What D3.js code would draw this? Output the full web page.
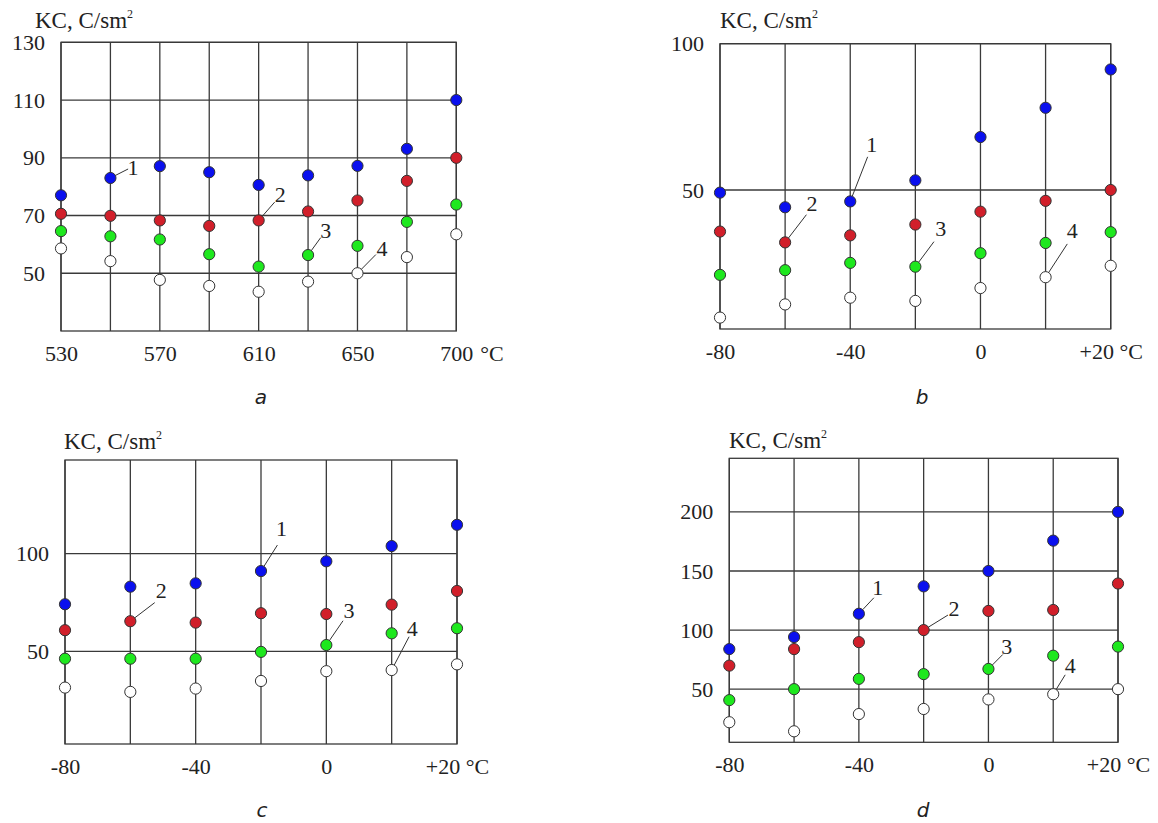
<!DOCTYPE html>
<html>
<head>
<meta charset="utf-8">
<script src="https://d3js.org/d3.v7.min.js"></script>
<style>
  body { margin: 0; background: #fff; }
  svg text { font-family: "Liberation Serif", "Times New Roman", serif; fill: #222; }
  .sub { font-family: "DejaVu Sans", sans-serif; font-style: italic; }
</style>
</head>
<body>
<div id="chart"></div>
<script>
// chart data
var catsA = ["530", "550", "570", "590", "610", "630", "650", "670", "700"];
var ticksA = ["530", "570", "610", "650", "700"];
var catsT = ["-80", "-60", "-40", "-20", "0", "+10", "+20"];
var ticksT = ["-80", "-40", "0", "+20"];

// panel a
var a1 = [77, 83, 87.1, 85, 80.6, 83.9, 87.2, 93.1, 110];
var a2 = [70.6, 69.9, 68.3, 66.4, 68.3, 71.4, 75.2, 82, 90];
var a3 = [64.6, 62.8, 61.7, 56.6, 52.3, 56.3, 59.5, 67.8, 73.8];
var a4 = [58.6, 54.2, 47.7, 45.6, 43.6, 47.1, 50, 55.6, 63.5];
var yTicksA = [50, 70, 90, 110, 130];

// panel b
var b1 = [49.1, 44.1, 46.1, 53.3, 68.1, 78.1, 91.2];
var b2 = [35.8, 32.1, 34.5, 38.2, 42.6, 46.3, 50];
var b3 = [21.0, 22.6, 25.1, 23.8, 28.4, 31.9, 35.6];
var b4 = [6.4, 10.9, 13.2, 12.1, 16.5, 20.2, 24.1];
var yTicksB = [50, 100];

// panel c
var c1 = [74.1, 83.1, 84.8, 91.1, 96.1, 103.9, 114.8];
var c2 = [60.8, 65.4, 64.7, 69.5, 69.1, 73.9, 80.9];
var c3 = [46.2, 46.2, 46.2, 49.7, 53.2, 59.2, 61.8];
var c4 = [31.4, 29.2, 30.9, 34.8, 39.8, 40.4, 43.3];
var yTicksC = [50, 100];

// panel d
var d1 = [83.9, 94.1, 113.8, 137, 150, 175.7, 200];
var d2 = [69.9, 83.9, 89.8, 100, 116.2, 117, 139.4];
var d3v = [40.7, 50, 58.7, 62.7, 67.1, 78.3, 86];
var d4 = [22, 14.3, 28.9, 33.2, 41.3, 45.7, 50];
var yTicksD = [50, 100, 150, 200];

var colors = ["#0a10ee", "#d11f2a", "#1ee81e", "#ffffff"];

var svgWidth = 1158;
var svgHeight = 823;

var svg = d3.select("#chart")
  .append("svg")
  .attr("width", svgWidth)
  .attr("height", svgHeight);

var panels = [
  { cats: catsA, ticks: ticksA, series: [a1, a2, a3, a4], yTicks: yTicksA,
    domain: [30, 130], x0: 61, x1: 456.3, y0: 42.3, y1: 331,
    title: [35, 28], letter: "a", letterPos: [261, 404], unitSplit: true,
    notes: [ { s: 0, i: 1, e: [17.7, -9], l: [22.7, -10.6], t: "1" },
             { s: 1, i: 4, e: [16, -18.3], l: [21.7, -26.6], t: "2" },
             { s: 2, i: 5, e: [12.6, -17.4], l: [17.6, -24.7], t: "3" },
             { s: 3, i: 6, e: [18.4, -18.7], l: [24.4, -25.4], t: "4" } ] },
  { cats: catsT, ticks: ticksT, series: [b1, b2, b3, b4], yTicks: yTicksB,
    domain: [2.5, 100], x0: 720, x1: 1110.7, y0: 43.7, y1: 329,
    title: [720, 28], letter: "b", letterPos: [922, 404],
    notes: [ { s: 0, i: 2, e: [17.4, -44.6], l: [21.4, -57.3], t: "1" },
             { s: 1, i: 1, e: [21.3, -27.7], l: [27, -38.7], t: "2" },
             { s: 2, i: 3, e: [18.6, -25], l: [25.3, -38.4], t: "3" },
             { s: 3, i: 5, e: [21.7, -33.3], l: [26.7, -47.3], t: "4" } ] },
  { cats: catsT, ticks: ticksT, series: [c1, c2, c3, c4], yTicks: yTicksC,
    domain: [2.5, 148], x0: 65, x1: 457, y0: 460, y1: 744,
    title: [64, 449], letter: "c", letterPos: [262, 817],
    notes: [ { s: 0, i: 3, e: [16.4, -26], l: [20.4, -42.7], t: "1" },
             { s: 1, i: 1, e: [24.4, -18.6], l: [31, -30.6], t: "2" },
             { s: 2, i: 4, e: [16.7, -24.3], l: [22.7, -35], t: "3" },
             { s: 3, i: 5, e: [17.4, -33.3], l: [20.7, -41.7], t: "4" } ] },
  { cats: catsT, ticks: ticksT, series: [d1, d2, d3v, d4], yTicks: yTicksD,
    domain: [5, 245.4], x0: 729.3, x1: 1118, y0: 458.3, y1: 742.3,
    title: [729, 448], letter: "d", letterPos: [923, 817],
    notes: [ { s: 0, i: 2, e: [15, -16], l: [19, -26.7], t: "1" },
             { s: 1, i: 3, e: [24.3, -15], l: [30.3, -21.6], t: "2" },
             { s: 2, i: 4, e: [14.3, -14.4], l: [18.3, -23], t: "3" },
             { s: 3, i: 5, e: [12, -19.4], l: [17, -29], t: "4" } ] }
];

var r = 5.6;
var lineColor = "#3a3a3a";

panels.forEach(function(p) {
  var g = svg.append("g");

  var x = d3.scalePoint().domain(p.cats).range([p.x0, p.x1]);
  var y = d3.scaleLinear().domain(p.domain).range([p.y1, p.y0]);

  // grid: verticals at every category, horizontals at the tick values
  g.selectAll(".vline").data(p.cats).enter().append("line")
    .attr("x1", d => x(d)).attr("x2", d => x(d))
    .attr("y1", p.y0).attr("y2", p.y1)
    .attr("stroke", lineColor).attr("stroke-width", 1.3);

  g.selectAll(".hline").data(p.yTicks).enter().append("line")
    .attr("x1", p.x0).attr("x2", p.x1)
    .attr("y1", d => y(d)).attr("y2", d => y(d))
    .attr("stroke", lineColor).attr("stroke-width", 1.3);

  g.append("rect")
    .attr("x", p.x0).attr("y", p.y0)
    .attr("width", p.x1 - p.x0).attr("height", p.y1 - p.y0)
    .attr("fill", "none").attr("stroke", lineColor).attr("stroke-width", 1.3);

  // y axis labels
  var leftAxis = d3.axisLeft(y).tickValues(p.yTicks).tickSize(0).tickPadding(16);
  var ya = g.append("g").attr("transform", `translate(${p.x0},0)`).call(leftAxis);
  ya.select(".domain").remove();
  ya.selectAll("text").attr("font-size", "22px").attr("fill", "#222");

  // x axis labels
  var bottomAxis = d3.axisBottom(x).tickValues(p.ticks).tickSize(0).tickPadding(14)
    .tickFormat(function(d) {
      if (d === p.cats[p.cats.length - 1] && !p.unitSplit) return d + " °C";
      return d;
    });
  var xa = g.append("g").attr("transform", `translate(0,${p.y1})`).call(bottomAxis);
  xa.select(".domain").remove();
  xa.selectAll("text").attr("font-size", "22px").attr("fill", "#222");

  if (p.unitSplit) {
    g.append("text")
      .attr("x", x(p.cats[p.cats.length - 1]) + 24)
      .attr("y", p.y1 + 30)
      .attr("font-size", "22px")
      .text("°C");
  }

  // axis title
  var t = g.append("text")
    .attr("x", p.title[0]).attr("y", p.title[1])
    .attr("font-size", "23px");
  t.append("tspan").text("KC, C/sm");
  t.append("tspan").attr("font-size", "12px").attr("dy", "-10").text("2");

  // points
  p.series.forEach(function(vals, si) {
    g.selectAll(".pt" + si).data(vals).enter().append("circle")
      .attr("cx", (d, i) => x(p.cats[i]))
      .attr("cy", d => y(d))
      .attr("r", r)
      .attr("fill", colors[si])
      .attr("stroke", "#333")
      .attr("stroke-width", 1);
  });

  // numbered callouts
  p.notes.forEach(function(n) {
    var cx = x(p.cats[n.i]);
    var cy = y(p.series[n.s][n.i]);
    var len = Math.sqrt(n.e[0] * n.e[0] + n.e[1] * n.e[1]);
    g.append("line")
      .attr("x1", cx + n.e[0] / len * r).attr("y1", cy + n.e[1] / len * r)
      .attr("x2", cx + n.e[0]).attr("y2", cy + n.e[1])
      .attr("stroke", "#333").attr("stroke-width", 1);
    g.append("text")
      .attr("x", cx + n.l[0]).attr("y", cy + n.l[1])
      .attr("dy", "0.35em")
      .attr("text-anchor", "middle")
      .attr("font-size", "22px")
      .text(n.t);
  });

  g.append("text")
    .attr("class", "sub")
    .attr("x", p.letterPos[0]).attr("y", p.letterPos[1])
    .attr("text-anchor", "middle")
    .attr("font-size", "20px")
    .text(p.letter);
});
</script>
</body>
</html>
